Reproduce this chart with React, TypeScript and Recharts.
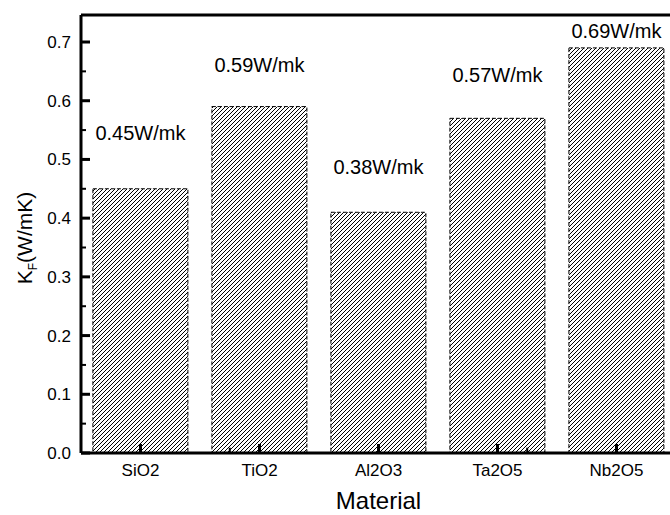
import { BarChart, Bar, XAxis, YAxis, LabelList, ReferenceLine } from 'recharts';

// values
const materials = ['SiO2', 'TiO2', 'Al2O3', 'Ta2O5', 'Nb2O5'];
const conductivity = [0.45, 0.59, 0.41, 0.57, 0.69];
const valueLabels = ['0.45W/mk', '0.59W/mk', '0.38W/mk', '0.57W/mk', '0.69W/mk'];
const yTicks = [0, 0.05, 0.1, 0.15, 0.2, 0.25, 0.3, 0.35, 0.4, 0.45, 0.5, 0.55, 0.6, 0.65, 0.7];
const bandEdges = [1, 2, 3, 4];

const Y_MAX = 0.746;
// how far (px) each annotation sits above its bar
const LABEL_GAP = [56, 42, 45, 43, 17];
const FONT = '"Liberation Sans", Arial, Helvetica, sans-serif';

const data = materials.map((m, i) => ({ material: m, value: conductivity[i], label: valueLabels[i] }));

const YTick = ({ x, y, payload }: any) => {
  const v = payload.value;
  const major = Math.round(v * 100) % 10 === 0;
  return (
    <g>
      <line x1={x} x2={x + (major ? 9 : 5)} y1={y} y2={y} stroke="#000" strokeWidth={major ? 3 : 2} />
      {major && (
        <text x={x - 10} y={y} dy="0.35em" textAnchor="end" fontSize={17} fontFamily={FONT} fill="#000">
          {v.toFixed(1)}
        </text>
      )}
    </g>
  );
};

const XTick = ({ x, y, payload }: any) => (
  <g>
    <line x1={x} x2={x} y1={y} y2={y - 9} stroke="#000" strokeWidth={3} />
    <text x={x} y={y + 17} dy="0.35em" textAnchor="middle" fontSize={17} fontFamily={FONT} fill="#000">
      {payload.value}
    </text>
  </g>
);

const ValueLabel = ({ x, y, width, value }: any) => {
  const i = valueLabels.indexOf(value);
  return (
    <text
      x={x + width / 2}
      y={y - LABEL_GAP[i]}
      dy="0.35em"
      textAnchor="middle"
      fontSize={20}
      fontFamily={FONT}
      fill="#000"
    >
      {value}
    </text>
  );
};

const XTitle = ({ viewBox }: any) => (
  <text
    x={viewBox.x + viewBox.width / 2}
    y={viewBox.y + viewBox.height - 6}
    textAnchor="middle"
    fontSize={24}
    fontFamily={FONT}
    fill="#000"
  >
    Material
  </text>
);

const YTitle = ({ viewBox }: any) => {
  const cx = 32;
  const cy = viewBox.y + viewBox.height / 2 + 4;
  return (
    <text
      x={cx}
      y={cy}
      transform={`rotate(-90, ${cx}, ${cy})`}
      textAnchor="middle"
      fontSize={21}
      fontFamily={FONT}
      fill="#000"
    >
      K
      <tspan fontSize={12} dy={5}>F</tspan>
      <tspan dy={-5}>(W/mK)</tspan>
    </text>
  );
};

export default function App() {
  return (
    <div
      style={{
        position: 'absolute',
        left: 0,
        top: 0,
        width: 670,
        height: 515,
        overflow: 'hidden',
        background: '#fff',
      }}
    >
      <svg width={0} height={0} style={{ position: 'absolute' }}>
        <defs>
          {/* pixel-aligned "/" hatch, one dark pixel per row */}
          <pattern id="hatch" patternUnits="userSpaceOnUse" width={4} height={4}>
            <rect width={4} height={4} fill="#fff" />
            <rect x={3} y={0} width={1} height={1} fill="#000" />
            <rect x={2} y={1} width={1} height={1} fill="#000" />
            <rect x={1} y={2} width={1} height={1} fill="#000" />
            <rect x={0} y={3} width={1} height={1} fill="#000" />
          </pattern>
        </defs>
      </svg>
      <BarChart
        width={680}
        height={515}
        data={data}
        margin={{ top: 15, right: 4, left: 0, bottom: 0 }}
        barCategoryGap="10%"
      >
        <XAxis
          dataKey="material"
          height={62}
          tickSize={0}
          tickMargin={0}
          tickLine={false}
          axisLine={{ stroke: '#000', strokeWidth: 3 }}
          tick={<XTick />}
          interval={0}
          label={<XTitle />}
        />
        <XAxis xAxisId="edges" type="number" domain={[0, 5]} hide />
        <YAxis
          domain={[0, Y_MAX]}
          ticks={yTicks}
          interval={0}
          width={81}
          tickSize={0}
          tickMargin={0}
          tickLine={false}
          axisLine={{ stroke: '#000', strokeWidth: 3 }}
          tick={<YTick />}
          label={<YTitle />}
        />
        <ReferenceLine y={Y_MAX} stroke="#000" strokeWidth={3} />
        {bandEdges.map((e) => (
          <ReferenceLine
            key={e}
            xAxisId="edges"
            segment={[{ x: e, y: 0 }, { x: e, y: 0.009 }]}
            stroke="#000"
            strokeWidth={2}
          />
        ))}
        <Bar
          dataKey="value"
          fill="url(#hatch)"
          stroke="#000"
          strokeWidth={1}
          strokeDasharray="4 2"
          isAnimationActive={false}
        >
          <LabelList dataKey="label" content={<ValueLabel />} />
        </Bar>
      </BarChart>
    </div>
  );
}
